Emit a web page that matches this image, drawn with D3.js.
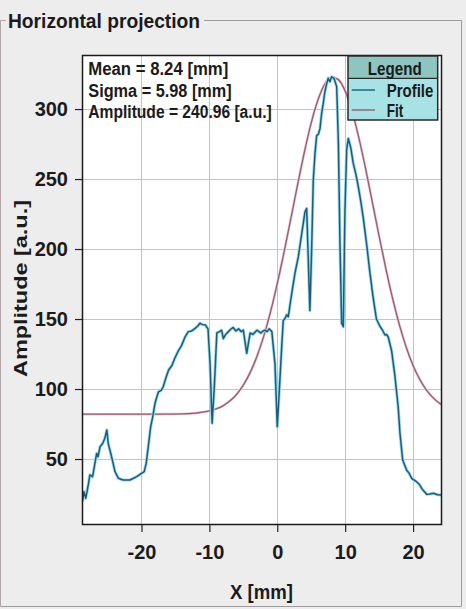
<!DOCTYPE html>
<html>
<head>
<meta charset="utf-8">
<script src="https://cdn.jsdelivr.net/npm/d3@7"></script>
<style>
  html, body { margin: 0; padding: 0; background: #ededed; }
  svg { display: block; }
  text { font-family: "Liberation Sans Narrow", "Liberation Sans", "DejaVu Sans Condensed", sans-serif; font-weight: bold; fill: #1b1b1b; }
</style>
</head>
<body>
<script>
// ---- data ----
const titleText = "Horizontal projection";
const xLabel = "X [mm]";
const yLabel = "Amplitude [a.u.]";
const xTicks = [-20, -10, 0, 10, 20];
const yTicks = [50, 100, 150, 200, 250, 300];
const statLines = ["Mean = 8.24 [mm]", "Sigma = 5.98 [mm]", "Amplitude = 240.96 [a.u.]"];
const legendTitle = "Legend";
const seriesNames = ["Profile", "Fit"];

const profileX = [-28.7, -28.47, -28.2, -27.8, -27.6, -27.2, -26.85, -26.6, -26.4, -26.1, -25.7, -25.4, -25.1, -24.9, -24.4, -23.9, -23.4, -22.7, -21.7, -20.7, -20.0, -19.6, -19.3, -19.0, -18.65, -18.35, -18.0, -17.5, -17.1, -16.8, -16.4, -16.0, -15.5, -15.1, -14.6, -14.1, -13.6, -13.1, -12.6, -12.1, -11.7, -11.4, -11.0, -10.6, -10.2, -9.9, -9.6, -9.3, -8.9, -8.5, -8.2, -7.95, -7.6, -7.2, -6.9, -6.5, -6.1, -5.7, -5.3, -5.0, -4.5, -4.0, -3.6, -3.0, -2.7, -2.4, -2.1, -1.8, -1.5, -1.2, -0.8, -0.34, 0, 0.3, 0.65, 0.88, 1.1, 1.38, 1.62, 2.12, 2.6, 3.1, 3.6, 4.08, 4.33, 4.57, 4.8, 5.07, 5.3, 5.55, 5.8, 6.05, 6.29, 6.54, 6.77, 7.0, 7.27, 7.5, 7.76, 8.0, 8.35, 8.75, 9.0, 9.23, 9.48, 9.72, 9.97, 10.22, 10.46, 10.8, 11.2, 11.6, 11.93, 12.3, 12.67, 13.17, 13.65, 14.1, 14.6, 15.1, 15.5, 15.86, 16.1, 16.35, 16.85, 17.33, 17.8, 18.07, 18.47, 19.06, 19.4, 19.8, 20.5, 20.9, 21.27, 22.0, 22.5, 23.0, 23.6, 24.2];
const profileY = [19.5, 26.6, 22, 32.6, 38.6, 37.4, 47, 54, 51.6, 58.8, 61.2, 64.8, 70.7, 61.2, 51.6, 41, 36.2, 35, 35, 37.4, 39.8, 41, 47, 58.8, 73, 80, 90, 98, 99, 101.6, 108, 113.6, 117, 122, 127, 131, 137, 141, 141.5, 143.3, 145, 147, 146, 145.7, 143, 118, 75.5, 99, 140, 141, 142, 136, 139, 141, 142.5, 144, 141.5, 143, 141, 142, 125.5, 140, 139, 142, 141, 140, 141.5, 142, 141, 143, 141, 118, 73, 99, 130, 149, 150, 153, 151.6, 168, 182.6, 194.5, 211, 226.6, 229, 192, 156, 201.6, 249, 268, 281, 282, 286, 297, 304, 312, 318, 322, 319.5, 323, 322, 316, 275.5, 204, 147, 144.5, 228, 270.7, 279, 273, 261, 253, 244.5, 234, 222, 203, 183, 166, 150, 145, 142, 138.6, 139, 137, 127, 109, 87.4, 68.4, 49.3, 42, 40, 36.2, 33.8, 32, 29, 24.8, 25, 25.5, 24.5, 24.3];

const fitX = [-28.76, -24, -20, -16, -14, -12, -10, -9, -8, -7, -6, -5, -4, -3, -2, -1, 0, 1, 2, 3, 4, 5, 6, 7, 8, 9, 10, 11, 12, 13, 14, 15, 16, 17, 18, 19, 20, 21, 22, 23, 24, 24.26];
const fitY = [82, 82, 82, 82.1, 82.2, 82.8, 84.3, 85.8, 88.0, 91.4, 96.1, 102.8, 111.7, 123.2, 137.6, 155.0, 175.3, 197.8, 221.8, 246.1, 269.4, 290.1, 306.6, 317.9, 322.8, 321.0, 312.8, 298.7, 279.8, 257.6, 233.5, 209.2, 185.8, 164.4, 145.6, 129.7, 116.8, 106.7, 99.1, 93.5, 89.5, 88.8];

// ---- drawing ----
const W = 466, H = 609;
const plot = {left: 82, right: 442, top: 55, bottom: 525};

const svg = d3.select("body").append("svg").attr("width", W).attr("height", H);
svg.append("rect").attr("width", W).attr("height", H).attr("fill", "#ededed");

// group box frame
svg.append("path").attr("d", "M0.5,606.5 V20.5 H6").attr("fill", "none").attr("stroke", "#b3a4a7").attr("stroke-width", 1);
svg.append("path").attr("d", "M204,20.5 H461.5 V606.5 H0.5").attr("fill", "none").attr("stroke", "#9c9c9c").attr("stroke-width", 1);
svg.append("text").attr("x", 8).attr("y", 28.3).attr("font-size", 20)
   .attr("textLength", 192).attr("lengthAdjust", "spacingAndGlyphs").text(titleText);

const x = d3.scaleLinear().domain([-28.76, 24.26]).range([plot.left, plot.right]);
const y = d3.scaleLinear().domain([2.86, 338.6]).range([plot.bottom, plot.top]);

// plot background
svg.append("rect").attr("x", plot.left).attr("y", plot.top)
   .attr("width", plot.right - plot.left).attr("height", plot.bottom - plot.top).attr("fill", "#ffffff");

// grid
const grid = svg.append("g").attr("stroke", "#c4c4c4").attr("stroke-width", 1);
xTicks.forEach(t => grid.append("line").attr("x1", Math.round(x(t)) + 0.5).attr("x2", Math.round(x(t)) + 0.5)
   .attr("y1", plot.top).attr("y2", plot.bottom));
yTicks.forEach(t => grid.append("line").attr("y1", Math.round(y(t)) + 0.5).attr("y2", Math.round(y(t)) + 0.5)
   .attr("x1", plot.left).attr("x2", plot.right));

// clip
svg.append("clipPath").attr("id", "clip").append("rect")
   .attr("x", plot.left).attr("y", plot.top).attr("width", plot.right - plot.left).attr("height", plot.bottom - plot.top);

const line = d3.line().x(d => x(d[0])).y(d => y(d[1]));
const fitData = fitX.map((v, i) => [v, fitY[i]]);
const profData = profileX.map((v, i) => [v, profileY[i]]);

const lines = svg.append("g").attr("clip-path", "url(#clip)");
lines.append("path").datum(fitData).attr("d", line.curve(d3.curveMonotoneX))
   .attr("fill", "none").attr("stroke", "#e3c9d2").attr("stroke-width", 2.6);
lines.append("path").datum(fitData).attr("d", line.curve(d3.curveMonotoneX))
   .attr("fill", "none").attr("stroke", "#9a5a72").attr("stroke-width", 1.3);
lines.append("path").datum(profData).attr("d", line.curve(d3.curveLinear))
   .attr("fill", "none").attr("stroke", "#9fdcec").attr("stroke-width", 3.2).attr("stroke-linejoin", "round");
lines.append("path").datum(profData).attr("d", line.curve(d3.curveLinear))
   .attr("fill", "none").attr("stroke", "#1d5b7c").attr("stroke-width", 1.5).attr("stroke-linejoin", "round");

// axes
const fmt = d => (d < 0 ? "-" : "") + Math.abs(d);
const xAxis = svg.append("g").attr("transform", `translate(0,${plot.bottom})`)
   .call(d3.axisBottom(x).tickValues(xTicks).tickFormat(fmt).tickSize(7).tickSizeOuter(0).tickPadding(13));
const yAxis = svg.append("g").attr("transform", `translate(${plot.left},0)`)
   .call(d3.axisLeft(y).tickValues(yTicks).tickSize(7).tickSizeOuter(0).tickPadding(7));
[xAxis, yAxis].forEach(a => {
  a.select(".domain").remove();
  a.selectAll(".tick line").attr("stroke", "#222").attr("stroke-width", 1.2);
  a.selectAll(".tick text").attr("font-size", 20).attr("fill", "#1b1b1b")
    .style("font-family", '"Liberation Sans Narrow", "Liberation Sans", sans-serif').style("font-weight", "bold");
});

// plot border
svg.append("rect").attr("x", plot.left + 0.5).attr("y", plot.top + 0.5)
   .attr("width", plot.right - plot.left - 1).attr("height", plot.bottom - plot.top - 1)
   .attr("fill", "none").attr("stroke", "#1a1a1a").attr("stroke-width", 1.5);

// axis titles
svg.append("text").attr("x", 261.5).attr("y", 599).attr("text-anchor", "middle").attr("font-size", 21)
   .attr("textLength", 63).attr("lengthAdjust", "spacingAndGlyphs").text(xLabel);
svg.append("text").attr("transform", "translate(26.7,288.5) rotate(-90)").attr("text-anchor", "middle")
   .attr("font-size", 19).attr("textLength", 177).attr("lengthAdjust", "spacingAndGlyphs").text(yLabel);

// stats box text
const statW = [140, 143.4, 183.4];
statLines.forEach((s, i) => svg.append("text").attr("x", 88.3).attr("y", 75 + i * 21.7)
   .attr("font-size", 18).attr("textLength", statW[i]).attr("lengthAdjust", "spacingAndGlyphs").text(s));

// legend
const lg = {x: 348, y: 56, w: 89.7, h: 64, hh: 22.3};
svg.append("rect").attr("x", lg.x).attr("y", lg.y).attr("width", lg.w).attr("height", lg.h).attr("fill", "#a7e3e4");
svg.append("rect").attr("x", lg.x).attr("y", lg.y).attr("width", lg.w).attr("height", lg.hh).attr("fill", "#8fc5c1");
svg.append("line").attr("x1", lg.x).attr("x2", lg.x + lg.w).attr("y1", lg.y + lg.hh).attr("y2", lg.y + lg.hh)
   .attr("stroke", "#2a2a2a").attr("stroke-width", 1.3);
svg.append("rect").attr("x", lg.x).attr("y", lg.y).attr("width", lg.w).attr("height", lg.h)
   .attr("fill", "none").attr("stroke", "#2a2a2a").attr("stroke-width", 1.5);
svg.append("text").attr("x", 394.7).attr("y", 75).attr("text-anchor", "middle").attr("font-size", 18)
   .attr("textLength", 54).attr("lengthAdjust", "spacingAndGlyphs").text(legendTitle);
const legColors = ["#1d5b7c", "#9a5a72"];
const legW = [46.7, 16.6];
seriesNames.forEach((n, i) => {
  const ly = 90 + i * 20;
  svg.append("line").attr("x1", 351.7).attr("x2", 375).attr("y1", ly).attr("y2", ly)
     .attr("stroke", legColors[i]).attr("stroke-width", 1.4);
  svg.append("text").attr("x", 386.7).attr("y", 96.7 + i * 20).attr("font-size", 18)
     .attr("textLength", legW[i]).attr("lengthAdjust", "spacingAndGlyphs").text(n);
});
</script>
</body>
</html>
